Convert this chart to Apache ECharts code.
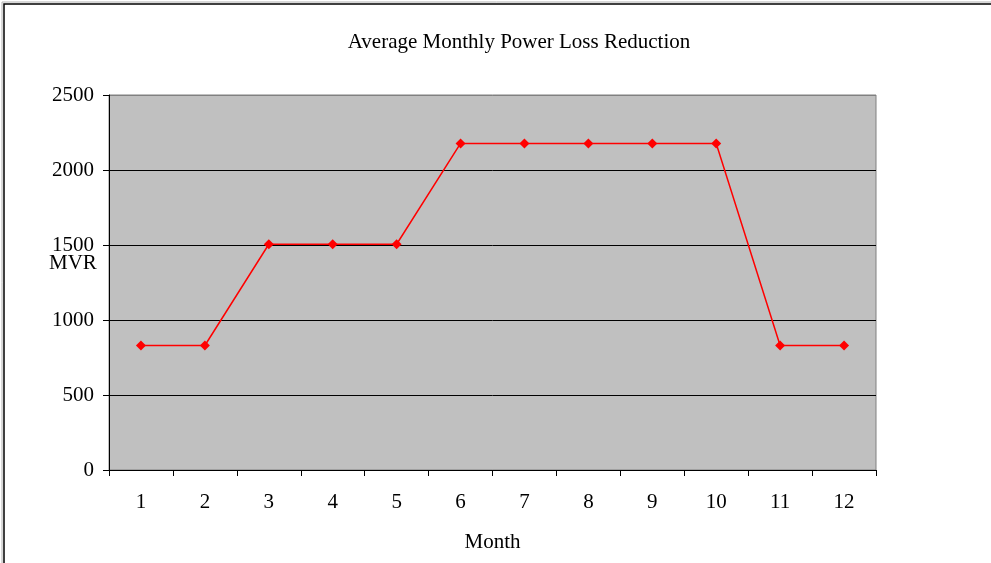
<!DOCTYPE html>
<html>
<head>
<meta charset="utf-8">
<title>Average Monthly Power Loss Reduction</title>
<script src="https://cdn.jsdelivr.net/npm/echarts@6/dist/echarts.min.js"></script>
<style>
  html, body { margin: 0; padding: 0; background: #fff; }
  #chart { width: 991px; height: 563px; }
</style>
</head>
<body>
<div id="chart"></div>
<script>
// Months on the category axis
const months = ['1', '2', '3', '4', '5', '6', '7', '8', '9', '10', '11', '12'];
// Average power loss reduction per month (MVR)
const lossReduction = [830, 830, 1505, 1505, 1505, 2177, 2177, 2177, 2177, 2177, 830, 830];
// Value axis range
const yMin = 0;
const yMax = 2500;
const yStep = 500;

const serif = '"Liberation Serif", "Times New Roman", serif';
const fs = 21;
const chart = echarts.init(document.getElementById('chart'), null, { renderer: 'canvas' });

chart.setOption({
  animation: false,
  backgroundColor: '#ffffff',
  textStyle: { fontFamily: serif },
  grid: {
    left: 109, top: 95, right: 115, bottom: 93,
    show: true,
    backgroundColor: '#c0c0c0',
    borderColor: '#808080',
    borderWidth: 1
  },
  xAxis: {
    type: 'category',
    data: months,
    boundaryGap: true,
    name: 'Month',
    nameLocation: 'middle',
    nameGap: 62,
    nameTextStyle: { fontFamily: serif, fontSize: fs, color: '#000' },
    axisLine: { show: true, lineStyle: { color: '#000', width: 1 } },
    axisTick: { show: true, alignWithLabel: false, length: 6, lineStyle: { color: '#000' } },
    axisLabel: { fontFamily: serif, fontSize: fs, color: '#000', margin: 22 },
    splitLine: { show: false }
  },
  yAxis: {
    type: 'value',
    min: yMin,
    max: yMax,
    interval: yStep,
    axisLine: { show: true, lineStyle: { color: '#000', width: 1 } },
    axisTick: { show: true, length: 6, lineStyle: { color: '#000' } },
    axisLabel: {
      fontFamily: serif, fontSize: fs, color: '#000', margin: 15,
      formatter: (v) => String(v)
    },
    splitLine: {
      show: true,
      lineStyle: { color: ['#000', '#000', '#000', '#000', '#000', '#808080'], width: 1 }
    }
  },
  graphic: [
    {
      type: 'text',
      x: 519,
      y: 42,
      style: {
        text: 'Average Monthly Power Loss Reduction',
        fontFamily: serif,
        fontSize: fs,
        fill: '#000',
        textAlign: 'center',
        textVerticalAlign: 'middle'
      }
    },
    {
      type: 'text',
      x: 49,
      y: 263,
      style: {
        text: 'MVR', fontFamily: serif, fontSize: fs, fill: '#000',
        textAlign: 'left', textVerticalAlign: 'middle'
      }
    },
    {
      type: 'polyline',
      shape: { points: [[2, 563], [2, 2], [991, 2]] },
      style: { stroke: '#b0b0b0', lineWidth: 1, fill: null }
    },
    {
      type: 'polyline',
      shape: { points: [[4, 563], [4, 4], [991, 4]] },
      style: { stroke: '#000', lineWidth: 1.5, fill: null }
    }
  ],
  series: [{
    type: 'line',
    data: lossReduction,
    symbol: 'diamond',
    symbolSize: 10,
    lineStyle: { color: '#ff0000', width: 1.5 },
    itemStyle: { color: '#ff0000' }
  }]
});
</script>
</body>
</html>
